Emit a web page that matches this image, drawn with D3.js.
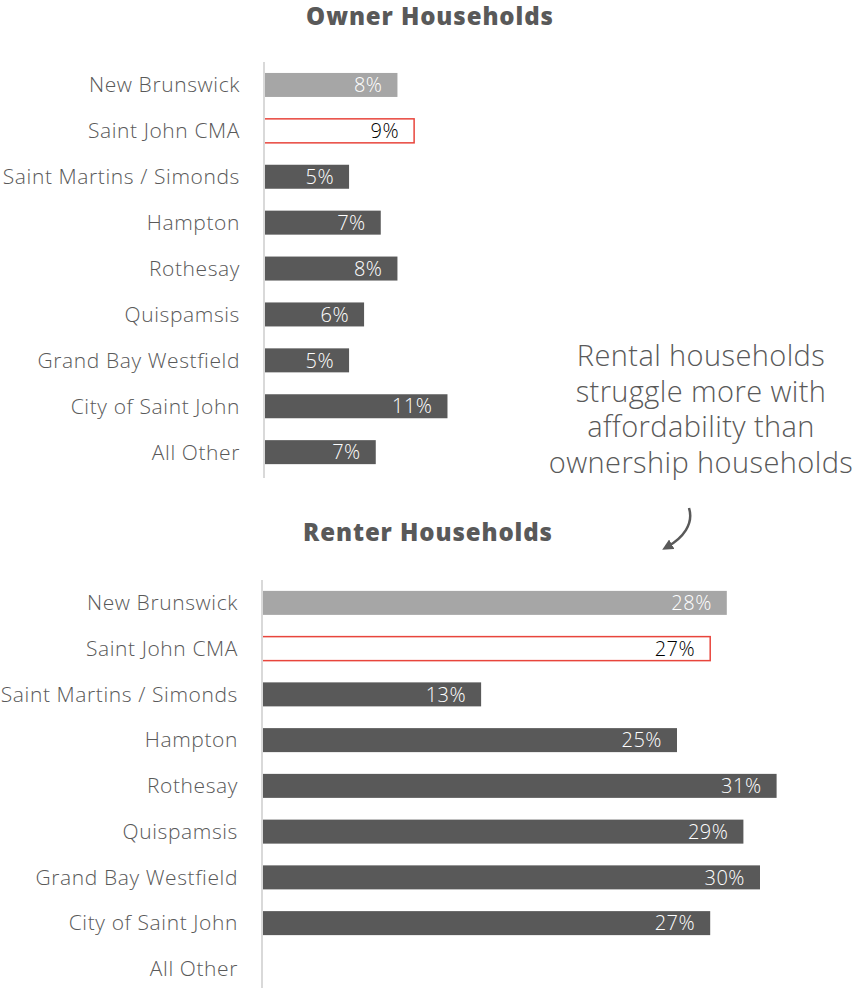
<!DOCTYPE html>
<html>
<head>
<meta charset="utf-8">
<script src="https://cdn.jsdelivr.net/npm/d3@7"></script>
<style>
  body { margin: 0; background: #fff; }
  text { font-family: "Open Sans", Lato, sans-serif; }
</style>
</head>
<body>
<div id="chart"></div>
<script>
// categories, same for both panels
var places = ["New Brunswick", "Saint John CMA", "Saint Martins / Simonds", "Hampton",
  "Rothesay", "Quispamsis", "Grand Bay Westfield", "City of Saint John", "All Other"];

// share of households in core housing need (%)
var ownerValues = [8.0, 9.0, 5.1, 7.0, 8.0, 6.0, 5.1, 11.0, 6.7];
var renterValues = [28.0, 27.0, 13.2, 25.0, 31.0, 29.0, 30.0, 27.0, null];

var noteLines = ["Rental households", "struggle more with", "affordability than", "ownership households"];

var width = 858, height = 988;
var grey = "#595959", light = "#a6a6a6", red = "#e8453c";

var svg = d3.select("#chart").append("svg")
    .attr("width", width)
    .attr("height", height);

// one horizontal bar panel
function panel(title, values, opts) {
  var g = svg.append("g");

  var x = d3.scaleLinear()
    .domain([0, 35])
    .range([opts.left, opts.left + 35 * opts.pxPer]);

  var y = d3.scaleBand()
    .domain(places)
    .range([opts.top, opts.top + places.length * opts.step])
    .padding(0);

  var barH = 24;

  // title
  g.append("text")
    .attr("x", opts.titleX)
    .attr("y", opts.titleY)
    .attr("text-anchor", "middle")
    .style("font-size", "24px")
    .style("font-weight", 800)
    .style("letter-spacing", "0.9px")
    .attr("fill", grey)
    .text(title);

  // category labels
  g.selectAll(".cat")
    .data(places)
    .enter().append("text")
      .attr("class", "cat")
      .attr("x", opts.left - 24)
      .attr("y", function(d) { return y(d) + y.bandwidth() / 2; })
      .attr("dy", "0.35em")
      .attr("text-anchor", "end")
      .style("font-size", "21px")
      .style("font-weight", 300)
      .style("letter-spacing", "0.6px")
      .attr("fill", grey)
      .text(function(d) { return d; });

  var rows = places.map(function(p, i) { return {name: p, v: values[i], i: i}; })
    .filter(function(d) { return d.v != null; });

  // bars
  g.selectAll(".bar")
    .data(rows)
    .enter().append("rect")
      .attr("class", "bar")
      .attr("x", x(0))
      .attr("y", function(d) { return y(d.name) + y.bandwidth() / 2 - barH / 2; })
      .attr("width", function(d) { return x(d.v) - x(0); })
      .attr("height", barH)
      .attr("fill", function(d) { return d.i == 0 ? light : d.i == 1 ? "#fff" : grey; })
      .attr("stroke", function(d) { return d.i == 1 ? red : "none"; })
      .attr("stroke-width", 1.5);

  // value labels inside bar ends
  g.selectAll(".val")
    .data(rows)
    .enter().append("text")
      .attr("class", "val")
      .attr("x", function(d) { return x(d.v) - 15; })
      .attr("y", function(d) { return y(d.name) + y.bandwidth() / 2; })
      .attr("dy", "0.36em")
      .attr("text-anchor", "end")
      .style("font-size", "20px")
      .style("font-weight", 300)
      .style("letter-spacing", "0.5px")
      .attr("fill", function(d) { return d.i == 1 ? "#000" : "#fff"; })
      .text(function(d) { return Math.round(d.v) + "%"; });

  // vertical axis line
  g.append("line")
    .attr("x1", x(0)).attr("x2", x(0))
    .attr("y1", opts.top).attr("y2", opts.axisEnd)
    .attr("stroke", "#d9d9d9")
    .attr("stroke-width", 2);
}

panel("Owner Households", ownerValues,
  {left: 264, pxPer: 16.68, top: 62, step: 45.9, axisEnd: 478, titleX: 430, titleY: 25});
panel("Renter Households", renterValues,
  {left: 262, pxPer: 16.6, top: 580, step: 45.75, axisEnd: 988, titleX: 428, titleY: 541});

// annotation
svg.append("text")
  .attr("x", 701)
  .attr("y", 366)
  .attr("text-anchor", "middle")
  .style("font-size", "29px")
  .style("font-weight", 300)
  .style("letter-spacing", "0.4px")
  .attr("fill", grey)
  .selectAll("tspan")
  .data(noteLines)
  .enter().append("tspan")
    .attr("x", 701)
    .attr("dy", function(d, i) { return i == 0 ? 0 : 35.5; })
    .text(function(d) { return d; });

// curved arrow
svg.append("defs").append("marker")
  .attr("id", "head")
  .attr("viewBox", "0 0 10 10")
  .attr("refX", 5).attr("refY", 5)
  .attr("markerWidth", 4.4).attr("markerHeight", 4.4)
  .attr("orient", "auto")
  .append("path")
    .attr("d", "M0,0 L10,5 L0,10 z")
    .attr("fill", grey);

svg.append("path")
  .attr("d", "M689,508 C694,524 683,538 667,547")
  .attr("fill", "none")
  .attr("stroke", grey)
  .attr("stroke-width", 2.5)
  .attr("marker-end", "url(#head)");
</script>
</body>
</html>
